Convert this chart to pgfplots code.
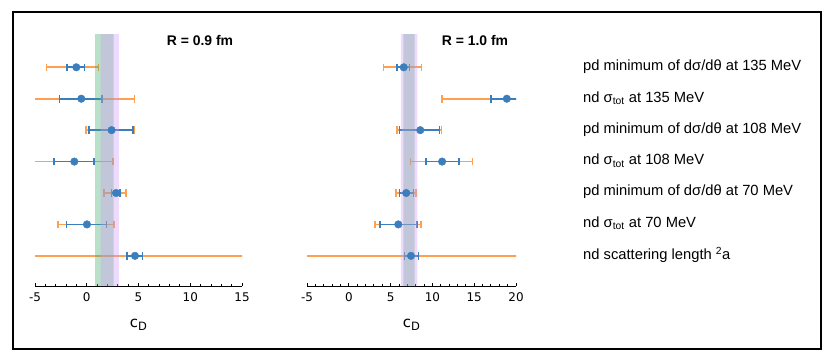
\documentclass[border=0pt]{standalone}
\usepackage{fontspec}
\setmainfont{Liberation Sans}
\newfontfamily\dejavu{DejaVu Sans}
\usepackage{pgfplots}
\usepackage{pgfplotstable}
\pgfplotsset{compat=1.18}

\definecolor{errorange}{RGB}{255,160,80}
\definecolor{errblue}{RGB}{58,126,190}
\definecolor{bandgreen}{RGB}{61,169,105}
\definecolor{bandviolet}{RGB}{208,152,247}

% rows: 7 = top (pd 135 MeV) ... 1 = bottom (nd scattering length)
% x = central value, blo/bhi = blue interval, olo/ohi = orange interval
\pgfplotstableread{
y x blo bhi olo ohi
7 -1.01 -1.91 -0.24 -3.87 1.15
6 -0.53 -2.65 1.47 -5.66 4.60
5 2.40 0.22 4.47 -0.07 4.57
4 -1.20 -3.16 0.70 -5.50 2.54
3 2.83 2.40 3.20 1.67 3.80
2 0.02 -1.94 1.89 -2.78 2.63
1 4.66 3.90 5.40 -6.00 16.00
}\leftdata

\pgfplotstableread{
y x blo bhi olo ohi
7 6.57 5.77 7.24 4.17 8.67
6 18.90 17.00 20.80 11.16 26.60
5 8.55 6.08 10.83 5.79 11.06
4 11.16 9.23 13.18 7.36 14.78
3 6.87 6.04 7.72 5.67 8.04
2 5.92 3.73 8.16 3.13 8.64
1 7.44 6.64 8.36 -6.00 21.00
}\rightdata

\pgfplotsset{
  cdpanel/.style={
    scale only axis,
    height=252bp,
    anchor=south west,
    ymin=0.04, ymax=8.06,
    axis x line*=bottom,
    axis y line=none,
    axis line style={line width=0.9bp},
    tick align=inside,
    tick style={black, line width=0.9bp},
    major tick length=3.5bp,
    minor tick length=2bp,
    minor x tick num=4,
    ytick=\empty,
    x tick label style={font=\dejavu\fontsize{12}{12}\selectfont, yshift=-3bp},
    xlabel={\dejavu\fontsize{15}{15}\selectfont c\raisebox{-3bp}{\fontsize{11.5}{11.5}\selectfont D}},
    xlabel style={yshift=-11bp},
  },
  orangebars/.style={
    errorange, only marks, mark=*, mark size=0.01bp,
    error bars/.cd, x dir=both, x explicit, error mark=|,
    error bar style={draw=errorange, solid, line width=1.8bp},
    error mark options={draw=errorange, solid, line width=1.5bp, mark size=3.8bp},
  },
  bluebars/.style={
    errblue, only marks, mark=*, mark size=3.8bp, mark options={draw=none, fill=errblue},
    error bars/.cd, x dir=both, x explicit, error mark=|,
    error bar style={draw=errblue, solid, line width=1.8bp},
    error mark options={draw=errblue, solid, line width=1.5bp, mark size=3.8bp},
  },
}

\begin{document}
\begin{tikzpicture}
\path (0bp,0bp) rectangle (830bp,358bp);
\draw[line width=1.5bp] (13bp,9bp) rectangle (821bp,346bp);

\begin{axis}[cdpanel, at={(35bp,72bp)}, width=207bp,
  xmin=-5, xmax=15, xtick={-5,0,5,10,15}, xticklabels={-5,0,5,10,15}]
\addplot[orangebars] table[x=x, y=y,
  x error plus expr=\thisrow{ohi}-\thisrow{x},
  x error minus expr=\thisrow{x}-\thisrow{olo}] {\leftdata};
\addplot[bluebars] table[x=x, y=y,
  x error plus expr=\thisrow{bhi}-\thisrow{x},
  x error minus expr=\thisrow{x}-\thisrow{blo}] {\leftdata};
\addplot[draw=none, fill=bandgreen, fill opacity=0.36] coordinates {(0.8,0) (0.8,9) (2.6,9) (2.6,0)} \closedcycle;
\addplot[draw=none, fill=bandviolet, fill opacity=0.36] coordinates {(1.35,0) (1.35,9) (3.1,9) (3.1,0)} \closedcycle;
\end{axis}

\begin{axis}[cdpanel, at={(307bp,72bp)}, width=209bp,
  xmin=-5, xmax=20, xtick={-5,0,5,10,15,20}, xticklabels={-5,0,5,10,15,20}]
\addplot[orangebars] table[x=x, y=y,
  x error plus expr=\thisrow{ohi}-\thisrow{x},
  x error minus expr=\thisrow{x}-\thisrow{olo}] {\rightdata};
\addplot[bluebars] table[x=x, y=y,
  x error plus expr=\thisrow{bhi}-\thisrow{x},
  x error minus expr=\thisrow{x}-\thisrow{blo}] {\rightdata};
\addplot[draw=none, fill=bandgreen, fill opacity=0.36] coordinates {(6.53,0) (6.53,9) (7.88,9) (7.88,0)} \closedcycle;
\addplot[draw=none, fill=bandviolet, fill opacity=0.36] coordinates {(6.24,0) (6.24,9) (8.19,9) (8.19,0)} \closedcycle;
\end{axis}

\node[font=\bfseries\fontsize{14}{14}\selectfont] at (200bp,317bp) {R = 0.9 fm};
\node[font=\bfseries\fontsize{14}{14}\selectfont] at (475bp,317bp) {R = 1.0 fm};

\begin{scope}[every node/.style={anchor=west, font=\fontsize{14.8}{14.8}\selectfont, inner sep=0pt}]
\node at (583bp,291.3bp) {pd minimum of dσ/dθ at 135 MeV};
\node at (583bp,259.7bp) {nd σ\textsubscript{tot} at 135 MeV};
\node at (583bp,228.7bp) {pd minimum of dσ/dθ at 108 MeV};
\node at (583bp,197.3bp) {nd σ\textsubscript{tot} at 108 MeV};
\node at (583bp,166bp) {pd minimum of dσ/dθ at 70 MeV};
\node at (583bp,134.7bp) {nd σ\textsubscript{tot} at 70 MeV};
\node at (583bp,103bp) {nd scattering length \textsuperscript{2}a};
\end{scope}
\end{tikzpicture}
\end{document}
